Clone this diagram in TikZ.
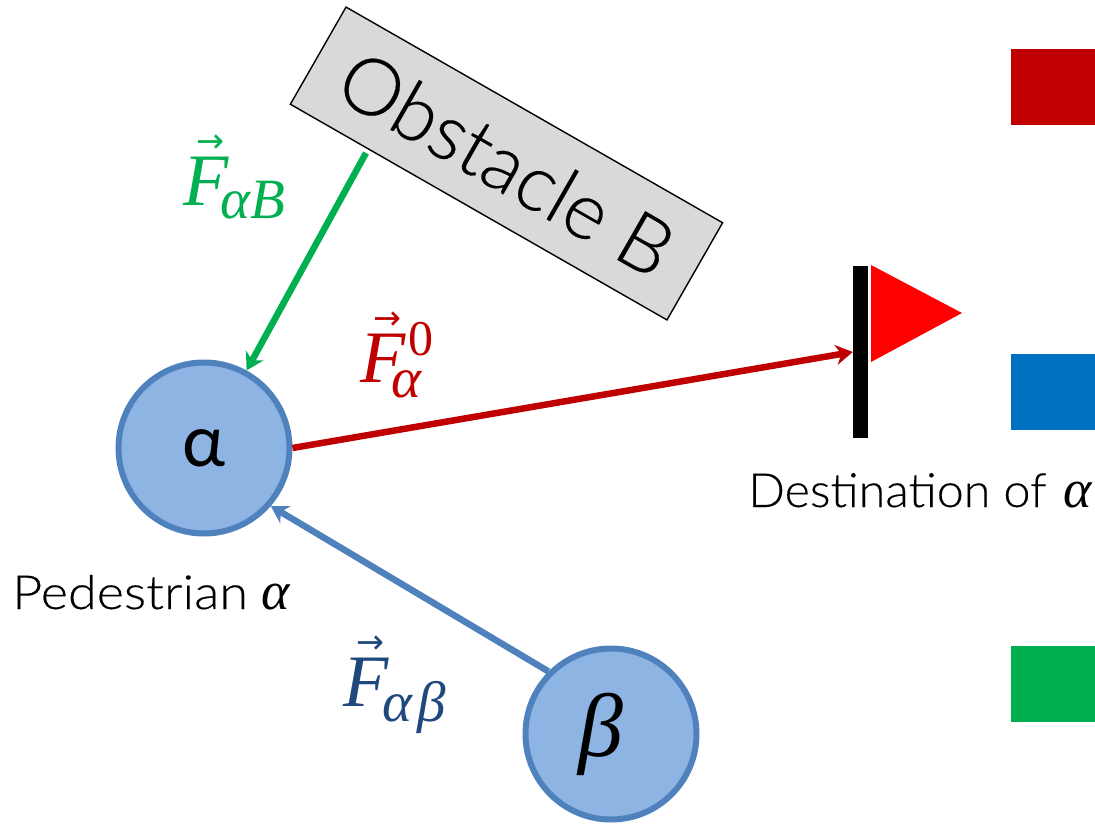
\documentclass[tikz,border=0pt]{standalone}
\usepackage{fontspec}
\usepackage{graphicx}
\usetikzlibrary{arrows.meta}
\setmainfont{Lato Light}[FakeBold=0.25]
\newfontfamily\mathf{Liberation Serif}
\newfontfamily\arrowf{DejaVu Sans}
\newfontfamily\upf{Carlito}
\definecolor{cred}{HTML}{C00000}
\definecolor{cblue}{HTML}{0070C0}
\definecolor{cgreen}{HTML}{00B050}
\definecolor{cfill}{HTML}{8EB4E3}
\definecolor{cline}{HTML}{4F81BD}
\definecolor{cnavy}{HTML}{1F497D}
\newcommand{\fs}[1]{\fontsize{#1}{#1}\selectfont}
\newcommand{\vecF}{\leavevmode\rlap{\raisebox{53pt}{\hspace{13pt}\arrowf\fs{34}\resizebox{28pt}{!}{→}}}{\mathf\itshape\fs{74}F}}
\newcommand{\subtxt}[2]{\raisebox{#1}{\mathf\itshape\fs{57}#2}}
\tikzset{
  person/.style={circle,draw=cline,fill=cfill,line width=6pt,minimum size=171pt,inner sep=0pt},
  force/.style={line width=6.5pt,-{Stealth[length=17pt,width=20pt]}},
  swatch/.style={minimum width=84pt,minimum height=76pt,inner sep=0pt,anchor=north west},
  flab/.style={inner sep=0pt,anchor=base west}
}
\begin{document}
\begin{tikzpicture}[x=1pt,y=-1pt]
\useasboundingbox (0,0) rectangle (1095,824);
\node[person] (alpha) at (204,448) {\raisebox{-6pt}{\upf\fs{76}α}};
\node[person] (beta) at (611,734) {\makebox[0pt]{\hspace{-20pt}\mathf\itshape\fs{90}β}};
\node[draw=black,fill=black!15,line width=1.4pt,rotate=-29.8,minimum width=434pt,minimum height=112pt,inner sep=0pt] (obst) at (506.5,163.5) {\raisebox{-7pt}{\fs{79}Obstacle B}};
\node[fill=black,minimum width=15pt,minimum height=172pt,inner sep=0pt] (pole) at (860.5,352) {};
\fill[red] (871,265) -- (962,313) -- (871,362) -- cycle;
\node[swatch,fill=cred] (s1) at (1011,49) {};
\node[swatch,fill=cblue] (s2) at (1011,354) {};
\node[swatch,fill=cgreen] (s3) at (1011,646) {};
\coordinate (gs) at (366,153);
\draw[force,cgreen] (gs) -- (alpha);
\draw[force,cred] (alpha.east) -- (pole.west);
\draw[force,cline] (beta.135) -- (alpha.-41);
\node[flab,text=cgreen] (f1) at (183,205) {\vecF\hspace{-8pt}\subtxt{-13pt}{αB}};
\node[flab,text=cred] (f2) at (360,382) {\vecF\rlap{\hspace{-14pt}\subtxt{-15pt}{α}}\hspace{3pt}\raisebox{27pt}{\mathf\fs{50}0}};
\node[flab,text=cnavy] (f3) at (343,706) {\vecF\hspace{-6pt}\subtxt{-15pt}{α\hspace{5pt}β}};
\node[flab] (l1) at (12,609) {\scalebox{1.11}[1]{\fs{47}Pedestrian}\hspace{14pt}{\mathf\itshape\fs{54}α}};
\node[flab] (l2) at (748,507) {\scalebox{1.03}[1]{\fs{47}Destination of}\hspace{17pt}{\mathf\itshape\fs{54}α}};
\end{tikzpicture}
\end{document}
